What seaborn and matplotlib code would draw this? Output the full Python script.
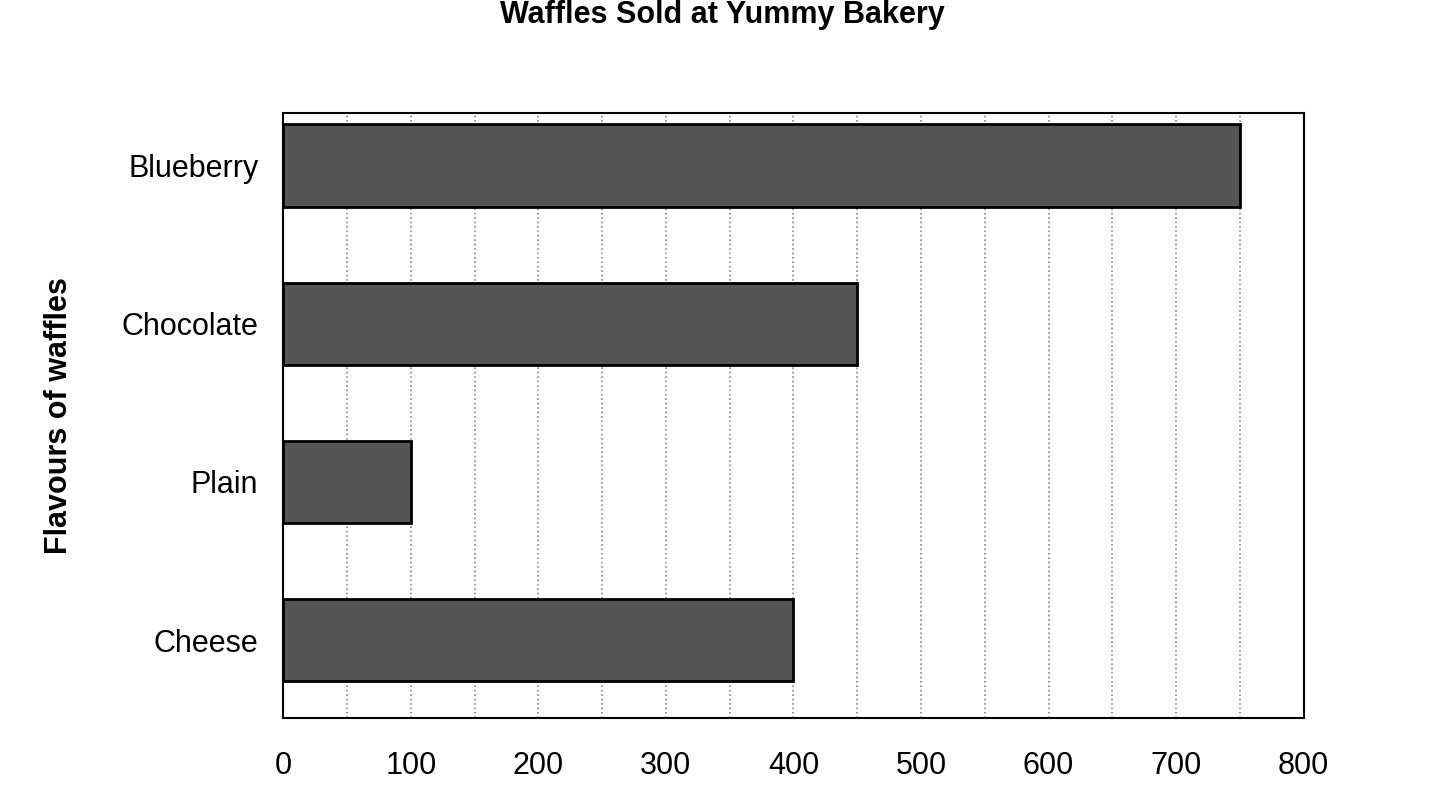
import pandas as pd
import seaborn as sns
import matplotlib.pyplot as plt

# data
flavours = ['Blueberry', 'Chocolate', 'Plain', 'Cheese']
waffles_sold = [750, 450, 100, 400]

df = pd.DataFrame({'flavour': flavours, 'sold': waffles_sold})

sns.set_style('white')
plt.rcParams['font.family'] = ['Liberation Sans', 'DejaVu Sans']

fig = plt.figure(figsize=(14.31, 8.1), dpi=100)
ax = fig.add_axes([0.198, 0.114, 0.713, 0.746])

sns.barplot(data=df, x='sold', y='flavour', orient='h', color='#555555',
            edgecolor='black', linewidth=2, width=0.52, saturation=1, ax=ax)

ax.set_xlim(0, 800)
ax.set_ylim(3.49, -0.33)
ax.set_xticks(range(0, 801, 100))
ax.set_xticks(range(50, 800, 100), minor=True)
ax.grid(axis='x', which='both', color='#888888', linestyle=':', linewidth=1.2)
ax.set_axisbelow(True)

ax.tick_params(axis='x', which='both', length=6, width=1, direction='out',
               labelsize=22, pad=18, colors='black')
ax.tick_params(axis='y', length=0, labelsize=22, pad=18, colors='black')
for s in ax.spines.values():
    s.set_visible(True)
    s.set_color('black')
    s.set_linewidth(1.5)

ax.set_xlabel('')
ax.set_ylabel('Flavours of waffles', fontsize=22, fontweight='bold',
              labelpad=34, color='black')

fig.text(0.505, 1.0, 'Waffles Sold at Yummy Bakery', ha='center', va='top',
         fontsize=22, fontweight='bold', color='black')

fig.savefig('out.png', dpi=100)
